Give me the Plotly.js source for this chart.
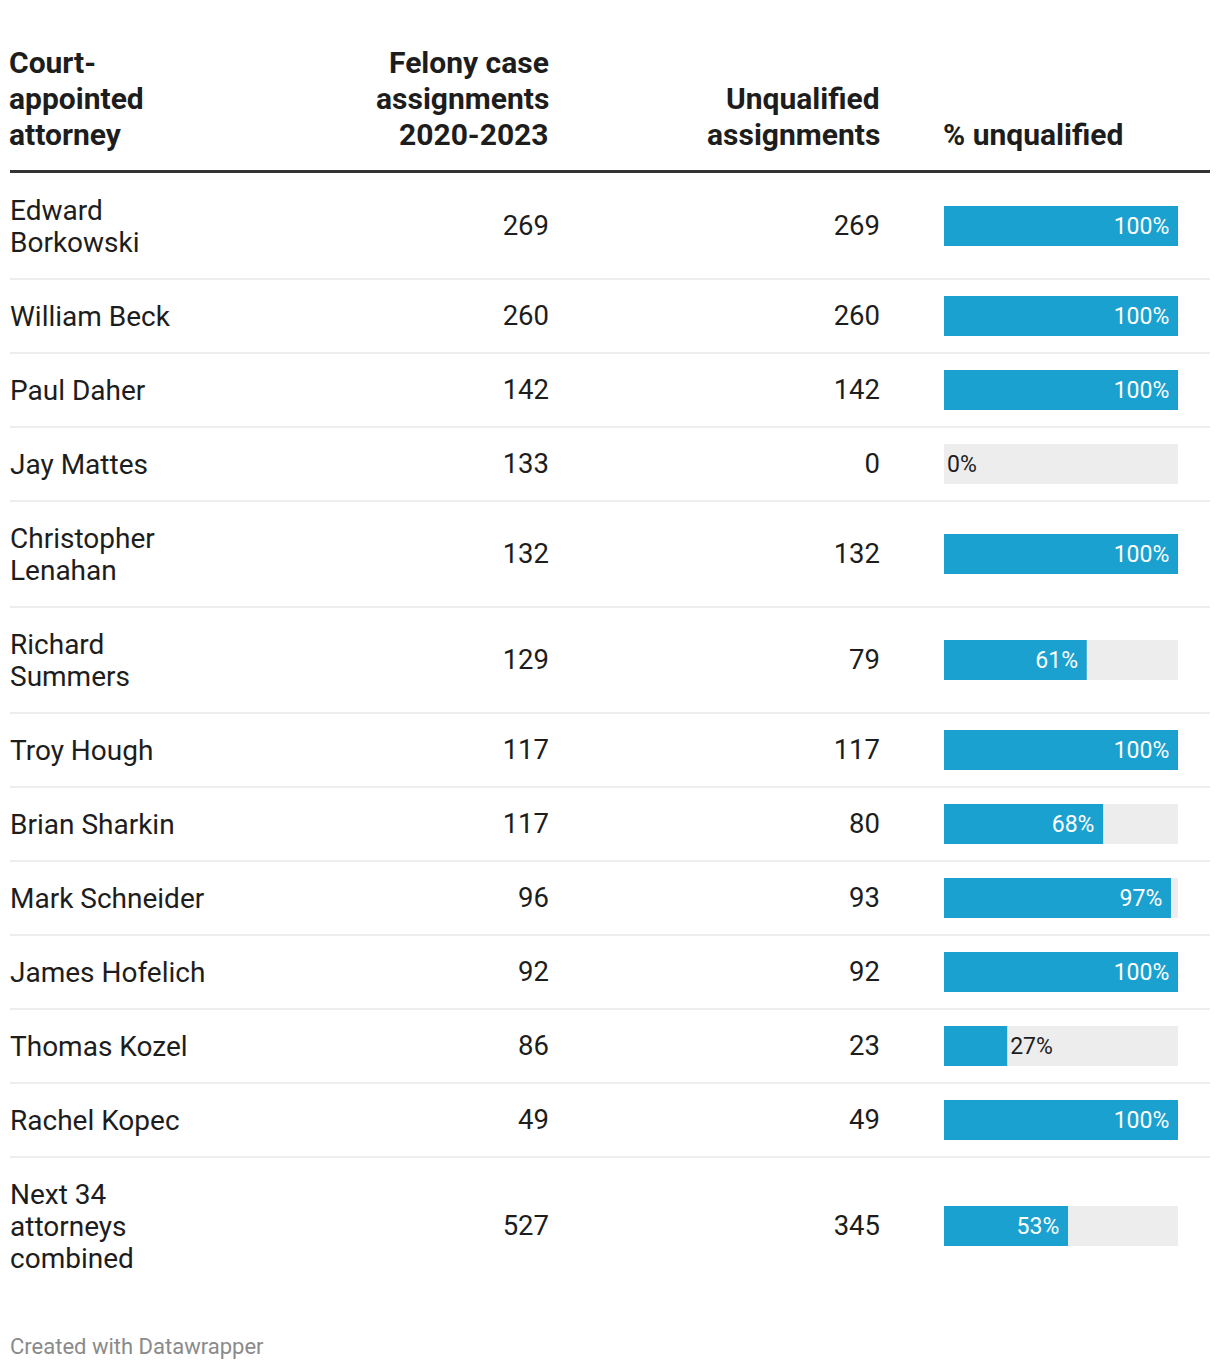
<!DOCTYPE html>
<html>
<head>
<meta charset="utf-8">
<script src="https://cdn.plot.ly/plotly-3.0.1.min.js"></script>
<style>html,body{margin:0;padding:0;background:#fff;}#chart{width:1220px;height:1370px;}</style>
</head>
<body>
<div id="chart"></div>
<script>
// ---- data ----
const attorneys = ["Edward<br>Borkowski","William Beck","Paul Daher","Jay Mattes","Christopher<br>Lenahan","Richard<br>Summers","Troy Hough","Brian Sharkin","Mark Schneider","James Hofelich","Thomas Kozel","Rachel Kopec","Next 34<br>attorneys<br>combined"];
const felonyAssignments = [269,260,142,133,132,129,117,117,96,92,86,49,527];
const unqualifiedAssignments = [269,260,142,0,132,79,117,80,93,92,23,49,345];
const pctUnqualified = [100,100,100,0,100,61,100,68,97,100,27,100,53];
const headers = ["Court-<br>appointed<br>attorney","Felony case<br>assignments<br>2020-2023","Unqualified<br>assignments","% unqualified"];
const footer = "Created with Datawrapper";

// ---- layout helpers ----
const W = 1220, H = 1370;
const FONT = "Roboto, 'Noto Sans', sans-serif";
const TXT = "#1d1d1d";
const BLUE = "#1aa1cf";
const GREY = "#ededed";
const tableTop = 173;
const lineH = 32, rowPad = 42;
const hdrLineH = 36, hdrLastLine = 134.5, hdrPad = 2;
const textNudge = 2.5;

const centers = [], bounds = [];
let yy = tableTop;
attorneys.forEach(n => {
  const lines = n.split("<br>").length;
  const h = rowPad + lineH * lines;
  centers.push(yy + h / 2);
  yy += h;
  bounds.push(yy);
});
const textY = centers.map(c => c + textNudge);

const colName = 10, colFel = 548, colUnq = 879, barL = 944, barR = 1178;

// split multi-line names into individual lines with custom line spacing
const nameX = [], nameY = [], nameT = [];
attorneys.forEach((n, i) => {
  const parts = n.split("<br>");
  parts.forEach((p, j) => {
    nameX.push(colName);
    nameY.push(textY[i] + (j - (parts.length - 1) / 2) * lineH);
    nameT.push(p);
  });
});

const traces = [
  {type:"scatter", mode:"text", x:nameX, y:nameY, text:nameT,
   textposition:"middle right", textfont:{family:FONT,size:28,color:TXT}, marker:{size:0}, hoverinfo:"skip", cliponaxis:false},
  {type:"scatter", mode:"text", x:felonyAssignments.map(()=>colFel + 1), y:textY, text:felonyAssignments.map(String),
   textposition:"middle left", textfont:{family:FONT,size:27.5,color:TXT}, marker:{size:0}, hoverinfo:"skip", cliponaxis:false},
  {type:"scatter", mode:"text", x:unqualifiedAssignments.map(()=>colUnq + 1), y:textY, text:unqualifiedAssignments.map(String),
   textposition:"middle left", textfont:{family:FONT,size:27.5,color:TXT}, marker:{size:0}, hoverinfo:"skip", cliponaxis:false},
  {type:"bar", orientation:"h", xaxis:"x2", yaxis:"y", y:centers, x:pctUnqualified.map(()=>100), width:40,
   marker:{color:GREY}, hoverinfo:"skip"},
  {type:"bar", orientation:"h", xaxis:"x2", yaxis:"y", y:centers, x:pctUnqualified, width:40,
   marker:{color:BLUE},
   text:pctUnqualified.map(v=> v < 40 ? v + "%" : v + "%\u00a0"),
   textposition:pctUnqualified.map(v=> v < 40 ? "outside" : "inside"),
   insidetextanchor:"end", constraintext:"none", cliponaxis:false,
   insidetextfont:{family:FONT,size:23,color:"#ffffff"},
   outsidetextfont:{family:FONT,size:23,color:TXT}, hoverinfo:"skip"}
];

const shapes = [
  {type:"line", xref:"x", yref:"y", x0:10, x1:1210, y0:171.5, y1:171.5, line:{color:"#333333", width:3}}
];
bounds.slice(0, -1).forEach(b => {
  shapes.push({type:"line", xref:"x", yref:"y", x0:10, x1:1210, y0:b, y1:b, line:{color:"#e8e8e8", width:1.5}});
});

const hdrX = [colName - hdrPad, colFel + hdrPad, colUnq + hdrPad, barL - hdrPad];
const hdrAnchor = ["left","right","right","left"];
const annotations = [];
headers.forEach((h, i) => {
  const parts = h.split("<br>");
  parts.forEach((p, j) => {
    annotations.push({xref:"x", yref:"y", x:hdrX[i], y:hdrLastLine - (parts.length - 1 - j) * hdrLineH,
      text:p, showarrow:false, xanchor:hdrAnchor[i], yanchor:"middle", borderpad:0,
      font:{family:FONT,size:30,color:TXT,weight:"bold"}});
  });
});
annotations.push({xref:"x", yref:"y", x:8, y:1346, text:footer, showarrow:false,
  xanchor:"left", yanchor:"middle", font:{family:FONT,size:22,color:"#8a8a8a"}});

const layout = {
  width:W, height:H, margin:{l:0,r:0,t:0,b:0},
  paper_bgcolor:"#fff", plot_bgcolor:"#fff",
  showlegend:false, barmode:"overlay",
  xaxis:{range:[0,W], domain:[0,1], visible:false, fixedrange:true},
  xaxis2:{range:[0,100], domain:[barL/W, barR/W], anchor:"y", visible:false, fixedrange:true},
  yaxis:{range:[H,0], domain:[0,1], visible:false, fixedrange:true},
  shapes:shapes, annotations:annotations
};

Plotly.newPlot("chart", traces, layout, {displayModeBar:false, staticPlot:true});
</script>
</body>
</html>
